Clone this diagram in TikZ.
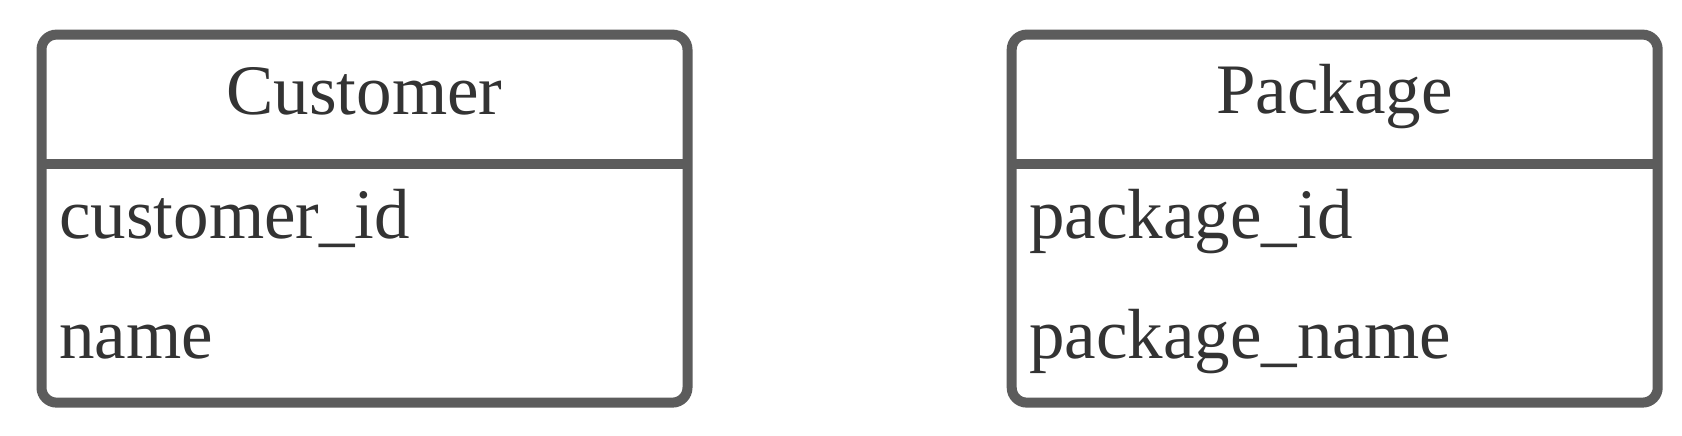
\documentclass[tikz,border=0pt]{standalone}
\usepackage{fontspec}
\setmainfont{Liberation Serif}
\definecolor{edgegray}{HTML}{5C5C5C}
\definecolor{txtgray}{HTML}{333333}
\begin{document}
\begin{tikzpicture}[x=1pt,y=-1pt,
  entity/.style={draw=edgegray, line width=10pt, rounded corners=15pt, inner sep=0pt, outer sep=0pt,
                 minimum width=646pt, minimum height=368pt},
  divider/.style={draw=edgegray, line width=10pt},
  title/.style={anchor=base, text=txtgray, inner sep=0pt, font=\fontsize{71}{85}\selectfont},
  attr/.style={anchor=base west, text=txtgray, inner sep=0pt, font=\fontsize{71}{85}\selectfont}]
\useasboundingbox (0,0) rectangle (1682,436);
% Customer
\node[entity] (cust) at (364.5,218.6) {};
\draw[divider] (cust.west |- 0,163.8) coordinate (cl) -- (cust.east |- 0,163.8) coordinate (cr);
\node[title] (custT) at (364.5,114) {Customer};
\node[attr] (custA) at (59,238.3) {customer\_id};
\node[attr] (custB) at (59,358.3) {name};
% Package
\node[entity] (pack) at (1334.7,218.6) {};
\draw[divider] (pack.west |- 0,163.8) coordinate (pl) -- (pack.east |- 0,163.8) coordinate (pr);
\node[title] (packT) at (1334.7,113.3) {Package};
\node[attr] (packA) at (1029,238.3) {package\_id};
\node[attr] (packB) at (1029,358.3) {package\_name};
\end{tikzpicture}
\end{document}
